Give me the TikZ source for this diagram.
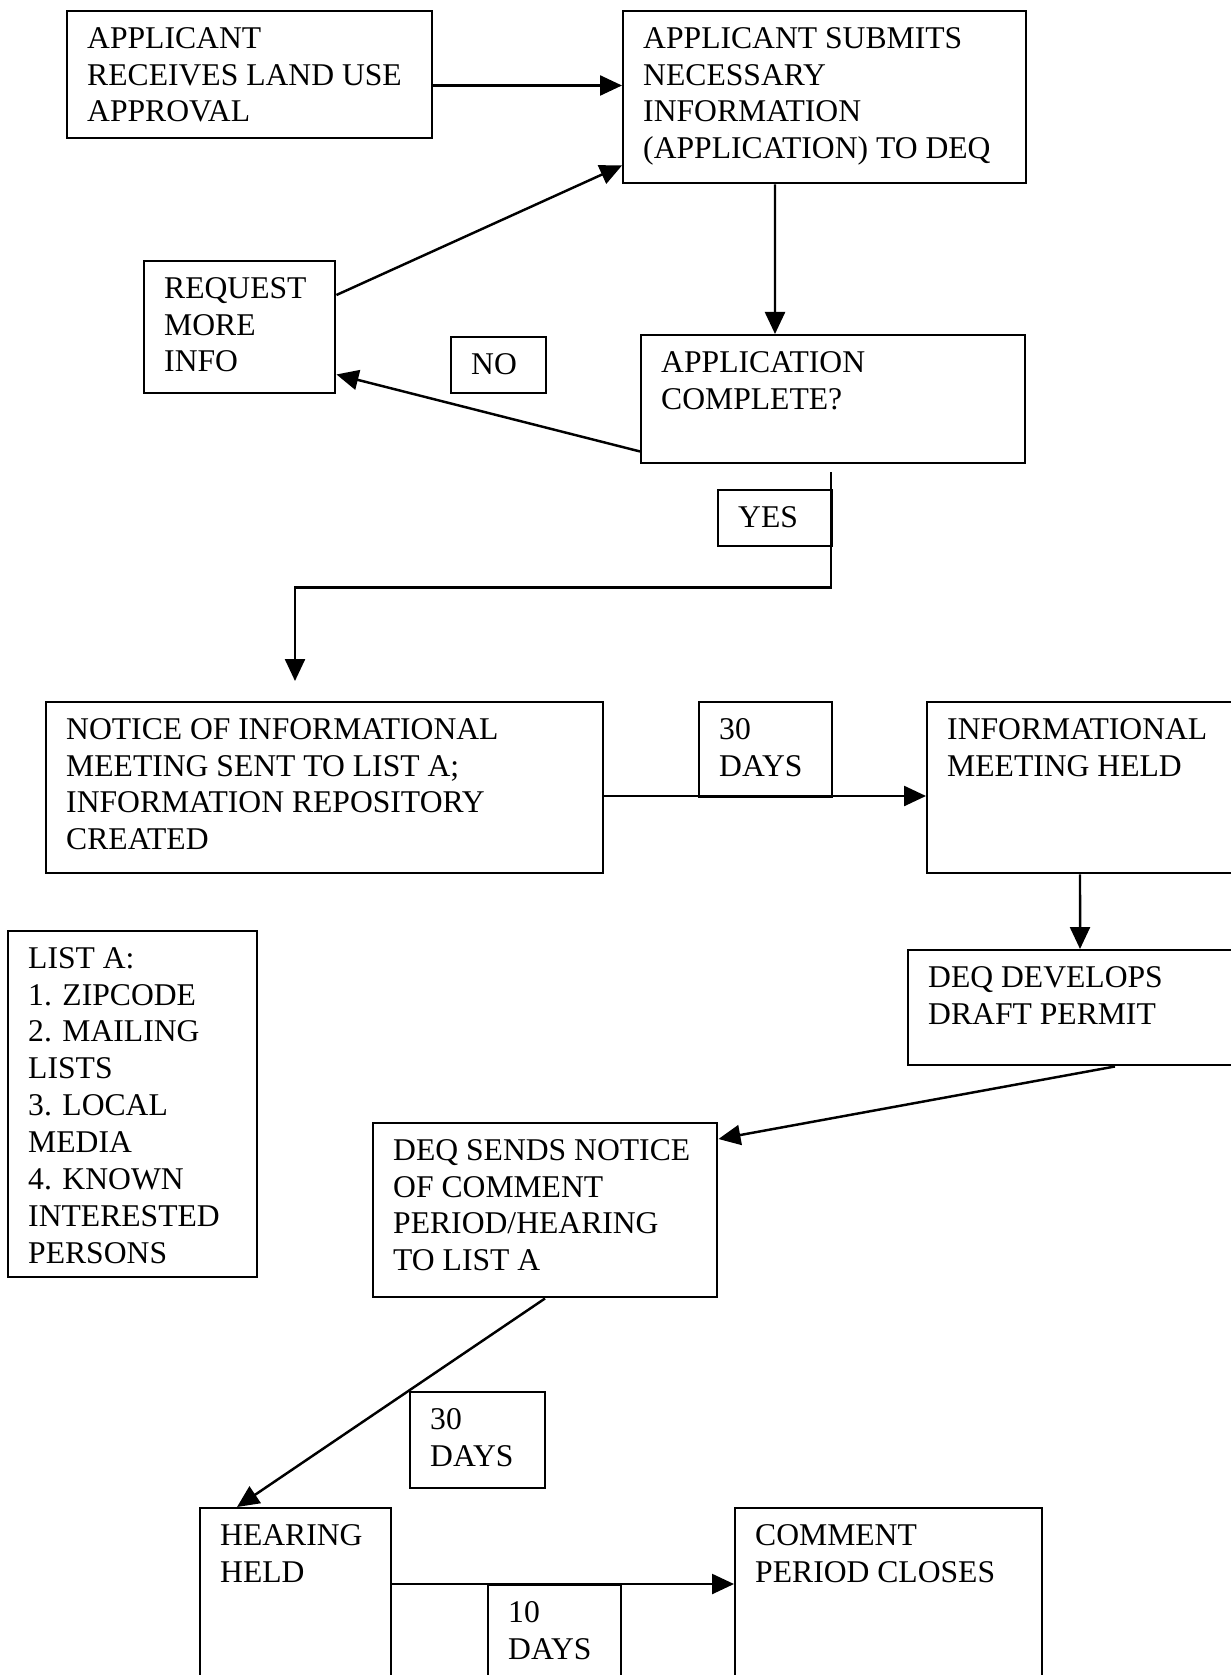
\documentclass[tikz,border=0pt]{standalone}
\usepackage{fontspec}
\setmainfont{Liberation Serif}
\usetikzlibrary{arrows.meta}
\tikzset{
  every picture/.style={line width=0.7pt},
  box/.style 2 args={draw, anchor=north west, inner xsep=0.2cm, inner ysep=0.16cm,
    font=\fontsize{9pt}{10.5pt}\selectfont,
    execute at begin node={\begin{minipage}[t][\dimexpr#2cm-0.32cm\relax][t]{\dimexpr#1cm-0.4cm\relax}\raggedright},
    execute at end node={\end{minipage}}},
  arrow/.style={-{Triangle[length=0.22cm, width=0.2cm]}},
}
\begin{document}
\begin{tikzpicture}
  \useasboundingbox (0,0) rectangle (12.30,-16.75);
  % top part
  \node[box={3.65}{1.27}] (approval) at (0.66,-0.10) {APPLICANT\\RECEIVES LAND USE\\APPROVAL};
  \node[box={4.03}{1.72}] (submit) at (6.22,-0.10) {APPLICANT SUBMITS\\NECESSARY\\INFORMATION\\(APPLICATION) TO DEQ};
  \node[box={1.91}{1.32}] (reqinfo) at (1.43,-2.60) {REQUEST\\MORE\\INFO};
  \node[box={0.95}{0.56}] (no) at (4.50,-3.36) {NO};
  \node[box={3.84}{1.28}] (complete) at (6.40,-3.34) {APPLICATION\\COMPLETE?};
  \node[box={1.14}{0.56}] (yes) at (7.17,-4.89) {YES};
  % informational meeting
  \node[box={5.57}{1.71}] (notice) at (0.45,-7.01) {NOTICE OF INFORMATIONAL\\MEETING SENT TO LIST A;\\INFORMATION REPOSITORY\\CREATED};
  \node[box={1.33}{0.95}] (days1) at (6.98,-7.01) {30\\DAYS};
  \node[box={3.40}{1.71}] (meeting) at (9.26,-7.01) {INFORMATIONAL\\MEETING HELD};
  \node[box={2.49}{3.46}] (lista) at (0.07,-9.30) {LIST A:\\1. ZIPCODE\\2. MAILING\\LISTS\\3. LOCAL\\MEDIA\\4. KNOWN\\INTERESTED\\PERSONS};
  \node[box={3.50}{1.15}] (draft) at (9.07,-9.49) {DEQ DEVELOPS\\DRAFT PERMIT};
  % comment period
  \node[box={3.44}{1.74}] (sends) at (3.72,-11.22) {DEQ SENDS NOTICE\\OF COMMENT\\PERIOD/HEARING\\TO LIST A};
  \node[box={1.35}{0.96}] (days2) at (4.09,-13.91) {30\\DAYS};
  \node[box={1.91}{2.00}] (hearing) at (1.99,-15.07) {HEARING\\HELD};
  \node[box={1.33}{1.20}] (days3) at (4.87,-15.84) {10\\DAYS};
  \node[box={3.07}{2.00}] (closes) at (7.34,-15.07) {COMMENT\\PERIOD CLOSES};
  % connectors
  \draw[arrow] ([yshift=-0.755cm]approval.north east) -- ([yshift=-0.755cm]submit.north west);
  \draw[arrow] ([xshift=1.53cm]submit.south west) -- ([xshift=1.35cm]complete.north west);
  \draw[arrow] ([yshift=-0.35cm]reqinfo.north east) -- ([yshift=0.19cm]submit.south west);
  \draw[arrow] ([yshift=0.13cm]complete.south west) -- ([yshift=0.20cm]reqinfo.south east);
  \draw[arrow] ([xshift=1.91cm,yshift=-0.08cm]complete.south west) -- ++(0,-1.15)
    -| ([xshift=2.50cm,yshift=0.20cm]notice.north west);
  \draw[arrow] ([yshift=-0.95cm]notice.north east) -- ([yshift=-0.95cm]meeting.north west);
  \draw[arrow] ([xshift=1.54cm]meeting.south west) -- ([xshift=1.73cm]draft.north west);
  \draw[arrow] ([xshift=2.08cm]draft.south west) -- ([yshift=-0.17cm]sends.north east);
  \draw[arrow] ([xshift=1.73cm]sends.south west) -- ([xshift=0.38cm]hearing.north west);
  \draw[arrow] ([yshift=-0.77cm]hearing.north east) -- ([yshift=-0.77cm]closes.north west);
\end{tikzpicture}
\end{document}
